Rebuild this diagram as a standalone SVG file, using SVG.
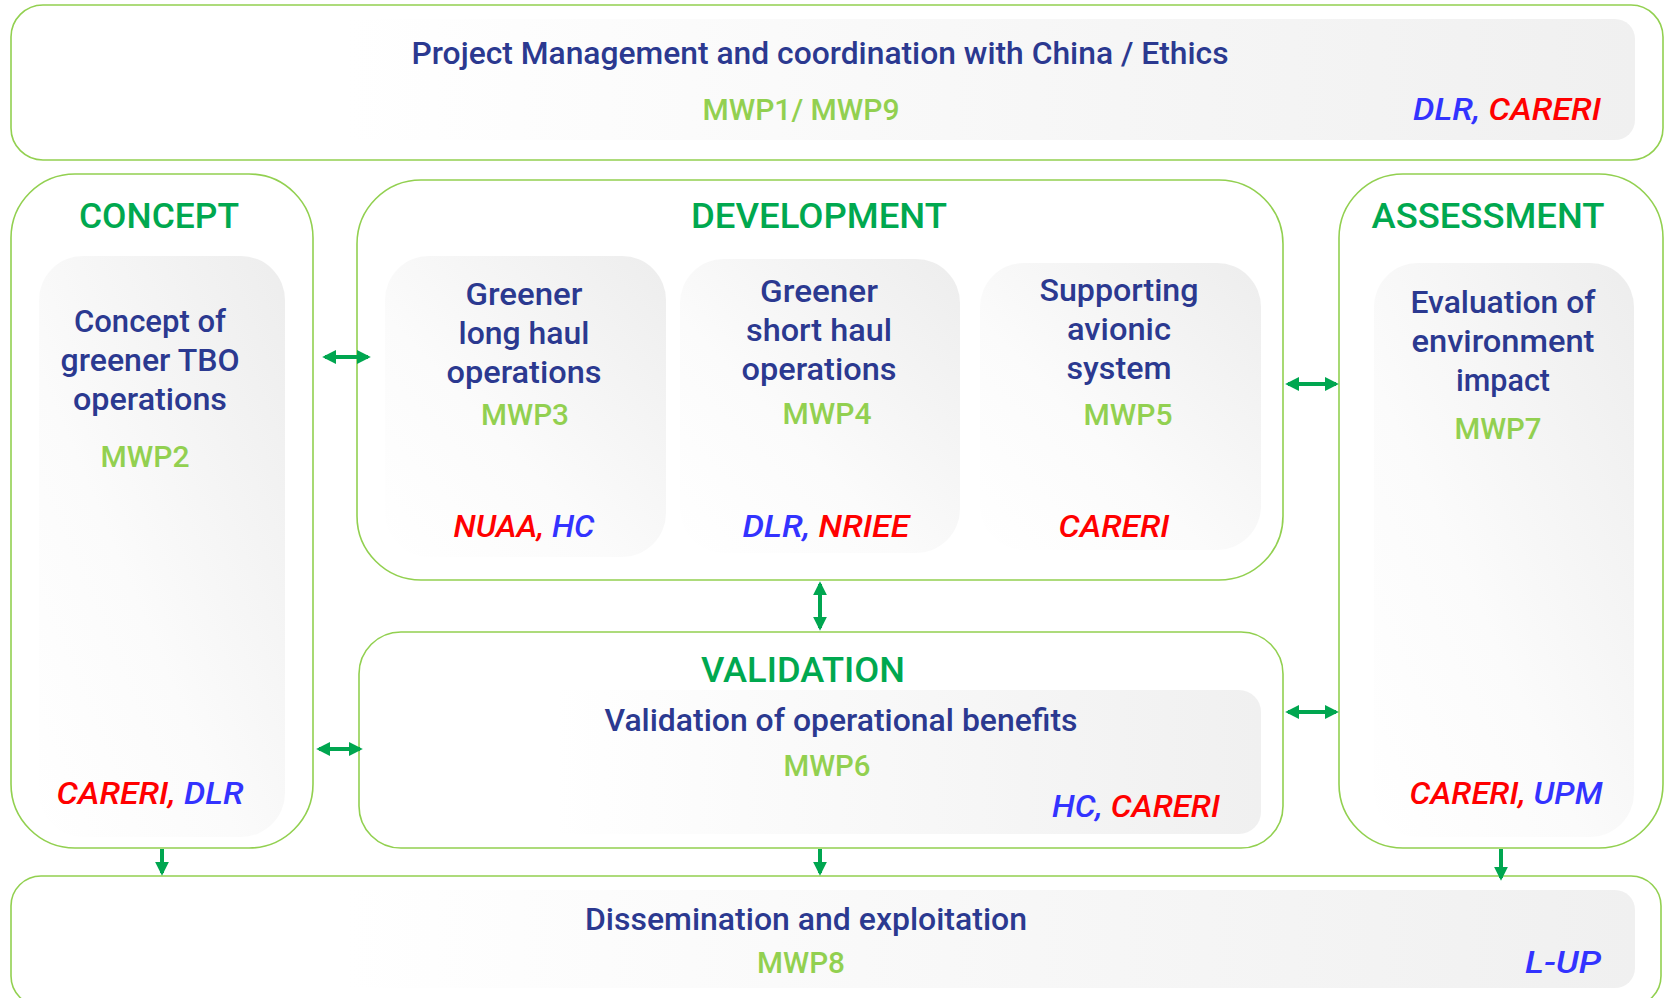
<svg xmlns="http://www.w3.org/2000/svg" width="1670" height="998" viewBox="0 0 1670 998">
<style>
.outer{fill:#fff;stroke:#92d050;stroke-width:1.6}
.t{font-family:Roboto,"Liberation Sans",sans-serif;font-weight:500;fill:#2b3990;font-size:31px;text-anchor:middle}
.ttl{font-family:Roboto,"Liberation Sans",sans-serif;font-weight:500;fill:#00a84f;font-size:35px;text-anchor:middle}
.mwp{font-family:Roboto,"Liberation Sans",sans-serif;font-weight:500;fill:#92d050;font-size:30px;text-anchor:middle}
.p{font-family:Roboto,"Liberation Sans",sans-serif;font-weight:500;font-style:italic;font-size:32px}
.r{fill:#ff0000}.b{fill:#3333ff}
.arr{stroke:#00a650;stroke-width:4;fill:none}
</style>
<defs>
<linearGradient id="gh" x1="0" y1="0" x2="1" y2="0">
<stop offset="0" stop-color="#ffffff"/><stop offset="0.2" stop-color="#ffffff"/><stop offset="1" stop-color="#f0f0f0"/>
</linearGradient>
<linearGradient id="gv" x1="1" y1="0" x2="0" y2="1">
<stop offset="0" stop-color="#ededed"/><stop offset="0.6" stop-color="#fbfbfb"/><stop offset="1" stop-color="#ffffff"/>
</linearGradient>
<marker id="ah" viewBox="0 0 10 10" refX="8" refY="5" markerWidth="14" markerHeight="14" markerUnits="userSpaceOnUse" orient="auto-start-reverse">
<path d="M0,0 L10,5 L0,10 z" fill="#00a650"/>
</marker>
</defs>

<g id="mwp1">
<rect class="outer" x="11" y="5" width="1652" height="155" rx="32"/>
<rect x="25" y="19" width="1610" height="121" rx="20" fill="url(#gh)"/>
<text class="t" x="820" y="64" textLength="817" lengthAdjust="spacingAndGlyphs">Project Management and coordination with China / Ethics</text>
<text class="mwp" x="801" y="120" textLength="197" lengthAdjust="spacingAndGlyphs">MWP1/ MWP9</text>
<text class="p" x="1601" y="120" text-anchor="end" textLength="188" lengthAdjust="spacingAndGlyphs"><tspan class="b">DLR, </tspan><tspan class="r">CARERI</tspan></text>
</g>

<g id="concept">
<rect class="outer" x="11" y="174" width="302" height="674" rx="64"/>
<rect x="39" y="256" width="246" height="581" rx="44" fill="url(#gv)"/>
<text class="ttl" x="159" y="228" textLength="160" lengthAdjust="spacingAndGlyphs">CONCEPT</text>
<text class="t" x="150" y="332" textLength="152" lengthAdjust="spacingAndGlyphs">Concept of</text>
<text class="t" x="150" y="371" textLength="179" lengthAdjust="spacingAndGlyphs">greener TBO</text>
<text class="t" x="150" y="410" textLength="154" lengthAdjust="spacingAndGlyphs">operations</text>
<text class="mwp" x="145" y="467" textLength="89" lengthAdjust="spacingAndGlyphs">MWP2</text>
<text class="p" x="150" y="804" text-anchor="middle" textLength="187" lengthAdjust="spacingAndGlyphs"><tspan class="r">CARERI, </tspan><tspan class="b">DLR</tspan></text>
</g>

<g id="development">
<rect class="outer" x="357" y="180" width="926" height="400" rx="64"/>
<text class="ttl" x="819" y="228" textLength="256" lengthAdjust="spacingAndGlyphs">DEVELOPMENT</text>
</g>

<g id="mwp3">
<rect x="385" y="256" width="281" height="301" rx="44" fill="url(#gv)"/>
<text class="t" x="524" y="305" textLength="117" lengthAdjust="spacingAndGlyphs">Greener</text>
<text class="t" x="524" y="344" textLength="131" lengthAdjust="spacingAndGlyphs">long haul</text>
<text class="t" x="524" y="383" textLength="155" lengthAdjust="spacingAndGlyphs">operations</text>
<text class="mwp" x="525" y="425" textLength="88" lengthAdjust="spacingAndGlyphs">MWP3</text>
<text class="p" x="524" y="537" text-anchor="middle" textLength="141" lengthAdjust="spacingAndGlyphs"><tspan class="r">NUAA, </tspan><tspan class="b">HC</tspan></text>
</g>

<g id="mwp4">
<rect x="680" y="259" width="280" height="294" rx="44" fill="url(#gv)"/>
<text class="t" x="819" y="302" textLength="118" lengthAdjust="spacingAndGlyphs">Greener</text>
<text class="t" x="819" y="341" textLength="146" lengthAdjust="spacingAndGlyphs">short haul</text>
<text class="t" x="819" y="380" textLength="155" lengthAdjust="spacingAndGlyphs">operations</text>
<text class="mwp" x="827" y="424" textLength="89" lengthAdjust="spacingAndGlyphs">MWP4</text>
<text class="p" x="826" y="537" text-anchor="middle" textLength="167" lengthAdjust="spacingAndGlyphs"><tspan class="b">DLR, </tspan><tspan class="r">NRIEE</tspan></text>
</g>

<g id="mwp5">
<rect x="980" y="263" width="281" height="287" rx="44" fill="url(#gv)"/>
<text class="t" x="1119" y="301" textLength="159" lengthAdjust="spacingAndGlyphs">Supporting</text>
<text class="t" x="1119" y="340" textLength="104" lengthAdjust="spacingAndGlyphs">avionic</text>
<text class="t" x="1119" y="379" textLength="105" lengthAdjust="spacingAndGlyphs">system</text>
<text class="mwp" x="1128" y="425" textLength="89" lengthAdjust="spacingAndGlyphs">MWP5</text>
<text class="p r" x="1114" y="537" text-anchor="middle" textLength="111" lengthAdjust="spacingAndGlyphs">CARERI</text>
</g>

<g id="assessment">
<rect class="outer" x="1339" y="174" width="324" height="674" rx="64"/>
<rect x="1374" y="263" width="260" height="574" rx="44" fill="url(#gv)"/>
<text class="ttl" x="1488" y="228" textLength="233" lengthAdjust="spacingAndGlyphs">ASSESSMENT</text>
<text class="t" x="1503" y="313" textLength="185" lengthAdjust="spacingAndGlyphs">Evaluation of</text>
<text class="t" x="1503" y="352" textLength="183" lengthAdjust="spacingAndGlyphs">environment</text>
<text class="t" x="1503" y="391" textLength="94" lengthAdjust="spacingAndGlyphs">impact</text>
<text class="mwp" x="1498" y="439" textLength="87" lengthAdjust="spacingAndGlyphs">MWP7</text>
<text class="p" x="1506" y="804" text-anchor="middle" textLength="193" lengthAdjust="spacingAndGlyphs"><tspan class="r">CARERI, </tspan><tspan class="b">UPM</tspan></text>
</g>

<g id="validation">
<rect class="outer" x="359" y="632" width="924" height="216" rx="42"/>
<rect x="380" y="690" width="881" height="144" rx="22" fill="url(#gh)"/>
<text class="ttl" x="803" y="682" textLength="204" lengthAdjust="spacingAndGlyphs">VALIDATION</text>
<text class="t" x="841" y="731" textLength="473" lengthAdjust="spacingAndGlyphs">Validation of operational benefits</text>
<text class="mwp" x="827" y="776" textLength="87" lengthAdjust="spacingAndGlyphs">MWP6</text>
<text class="p" x="1220" y="817" text-anchor="end" textLength="168" lengthAdjust="spacingAndGlyphs"><tspan class="b">HC, </tspan><tspan class="r">CARERI</tspan></text>
</g>

<g id="mwp8">
<rect class="outer" x="11" y="876" width="1650" height="130" rx="30"/>
<rect x="25" y="890" width="1610" height="98" rx="20" fill="url(#gh)"/>
<text class="t" x="806" y="930" textLength="442" lengthAdjust="spacingAndGlyphs">Dissemination and exploitation</text>
<text class="mwp" x="801" y="973" textLength="88" lengthAdjust="spacingAndGlyphs">MWP8</text>
<text class="p b" x="1601" y="973" text-anchor="end" textLength="76" lengthAdjust="spacingAndGlyphs">L-UP</text>
</g>

<g id="connectors">
<line class="arr" x1="325" y1="357" x2="368" y2="357" marker-start="url(#ah)" marker-end="url(#ah)"/>
<line class="arr" x1="319" y1="749" x2="360" y2="749" marker-start="url(#ah)" marker-end="url(#ah)"/>
<line class="arr" x1="820" y1="584" x2="820" y2="628" marker-start="url(#ah)" marker-end="url(#ah)"/>
<line class="arr" x1="1288" y1="384" x2="1336" y2="384" marker-start="url(#ah)" marker-end="url(#ah)"/>
<line class="arr" x1="1288" y1="712" x2="1336" y2="712" marker-start="url(#ah)" marker-end="url(#ah)"/>
<line class="arr" x1="162" y1="849" x2="162" y2="873" marker-end="url(#ah)"/>
<line class="arr" x1="820" y1="849" x2="820" y2="873" marker-end="url(#ah)"/>
<line class="arr" x1="1501" y1="849" x2="1501" y2="878" marker-end="url(#ah)"/>
</g>
</svg>
